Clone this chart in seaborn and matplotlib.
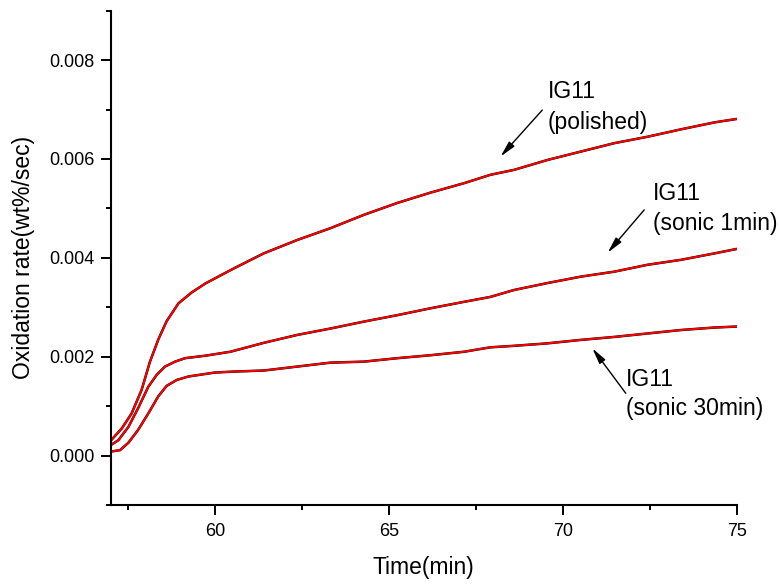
import numpy as np
import pandas as pd
import matplotlib
matplotlib.use("Agg")
import matplotlib.pyplot as plt
import seaborn as sns
from matplotlib.ticker import MultipleLocator

# ---- data ----
t_polished = [57.0, 57.32, 57.6, 57.89, 58.13, 58.37, 58.61, 58.95, 59.33, 59.72,
              60.2, 60.58, 61.4, 62.36, 63.32, 64.28, 65.24, 66.2, 67.16, 67.92,
              68.6, 69.56, 70.52, 71.48, 72.44, 73.4, 74.36, 75.0]
v_polished = [0.00030, 0.00055, 0.00085, 0.00133, 0.00190, 0.00235, 0.00272, 0.00308,
              0.00330, 0.00348, 0.00366, 0.00380, 0.00409, 0.00436, 0.00460, 0.00487,
              0.00511, 0.00532, 0.00551, 0.00568, 0.00578, 0.00598, 0.00615, 0.00632,
              0.00645, 0.00660, 0.00674, 0.00681]

t_sonic1 = [57.0, 57.22, 57.51, 57.79, 58.08, 58.32, 58.56, 58.85, 59.14, 59.72,
            60.44, 61.4, 62.36, 63.32, 64.28, 65.24, 66.2, 67.16, 67.92, 68.6,
            69.56, 70.52, 71.48, 72.44, 73.4, 74.36, 75.0]
v_sonic1 = [0.00021, 0.00031, 0.00058, 0.00096, 0.00139, 0.00163, 0.00180, 0.00190,
            0.00197, 0.00202, 0.00210, 0.00228, 0.00244, 0.00257, 0.00271, 0.00284,
            0.00298, 0.00311, 0.00321, 0.00335, 0.00349, 0.00362, 0.00372, 0.00386,
            0.00396, 0.00409, 0.00418]

t_sonic30 = [57.0, 57.27, 57.51, 57.79, 58.08, 58.37, 58.61, 58.9, 59.24, 59.62,
             60.0, 60.58, 61.4, 62.36, 63.32, 64.28, 65.24, 66.2, 67.16, 67.92,
             68.6, 69.56, 70.52, 71.48, 72.44, 73.4, 74.36, 75.0]
v_sonic30 = [0.00008, 0.00011, 0.00026, 0.00052, 0.00085, 0.00120, 0.00141, 0.00153,
             0.00160, 0.00164, 0.00168, 0.00170, 0.00172, 0.00180, 0.00188, 0.00190,
             0.00197, 0.00203, 0.00210, 0.00219, 0.00222, 0.00227, 0.00234, 0.00240,
             0.00247, 0.00254, 0.00259, 0.00261]

series_names = ["polished", "sonic 1min", "sonic 30min"]
label_lines = [["IG11", "(polished)"], ["IG11", "(sonic 1min)"], ["IG11", "(sonic 30min)"]]

# ---- styling ----
sns.set_theme(style="ticks")
plt.rcParams["font.family"] = ["Liberation Sans", "DejaVu Sans"]
plt.rcParams["axes.linewidth"] = 1.5

fig = plt.figure(figsize=(7.8, 5.87), dpi=100)
ax = fig.add_axes([0.1419, 0.1397, 0.8026, 0.8421])

frames = []
for name, t, v in zip(series_names, [t_polished, t_sonic1, t_sonic30],
                      [v_polished, v_sonic1, v_sonic30]):
    frames.append(pd.DataFrame({"time": t, "rate": v, "sample": name}))
df = pd.concat(frames, ignore_index=True)

for name in series_names:
    sub = df[df["sample"] == name]
    sns.lineplot(data=sub, x="time", y="rate", ax=ax, color="black", lw=1.8,
                 estimator=None, sort=False, legend=False)
    sns.lineplot(data=sub, x="time", y="rate", ax=ax, color="#ff0000", lw=1.4,
                 estimator=None, sort=False, legend=False)

ax.set_xlim(57, 75)
ax.set_ylim(-0.001, 0.009)
ax.xaxis.set_major_locator(MultipleLocator(5))
ax.xaxis.set_minor_locator(MultipleLocator(2.5))
ax.yaxis.set_major_locator(MultipleLocator(0.002))
ax.yaxis.set_minor_locator(MultipleLocator(0.001))
ax.yaxis.set_major_formatter(matplotlib.ticker.FormatStrFormatter("%.3f"))
ax.tick_params(which="major", direction="out", length=7.2, width=1.4,
               labelsize=13, colors="black", pad=4.5)
ax.tick_params(which="minor", direction="out", length=3.6, width=1.4, colors="black")
ax.tick_params(axis="x", which="major", pad=5.5)
for s in ["top", "right"]:
    ax.spines[s].set_visible(False)
for s in ["left", "bottom"]:
    ax.spines[s].set_color("black")
    ax.spines[s].set_linewidth(1.5)

ax.set_xlabel("Time(min)", fontsize=16.5, color="black", labelpad=12)
ax.set_ylabel("Oxidation rate(wt%/sec)", fontsize=16.5, color="black", labelpad=10)

# ---- annotations ----
ann_text_pos = [(69.56, 0.007237, 0.00660), (72.58, 0.005172, 0.004565),
                (71.81, 0.001407, 0.00082)]
ann_arrows = [((69.41, 0.00699), (68.21, 0.00605)),
              ((72.34, 0.00497), (71.29, 0.004105)),
              ((71.81, 0.00126), (70.85, 0.00217))]
for (tx, y1, y2), lines, (tail, head) in zip(ann_text_pos, label_lines, ann_arrows):
    ax.text(tx, y1, lines[0], fontsize=16.5, ha="left", va="baseline", color="black")
    ax.text(tx, y2, lines[1], fontsize=16.5, ha="left", va="baseline", color="black")
    ax.annotate("", xy=head, xytext=tail,
                arrowprops=dict(arrowstyle="-|>,head_length=0.8,head_width=0.18",
                                color="black", lw=1.0, shrinkA=0, shrinkB=0))

fig.savefig("out.png", dpi=100, facecolor="white")
